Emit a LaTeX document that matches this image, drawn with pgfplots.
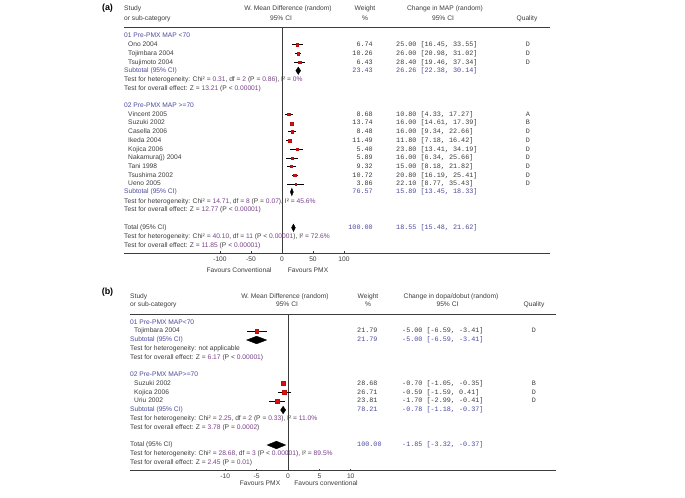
\documentclass[border=0pt]{standalone}
\usepackage{pgfplots}
\pgfplotsset{compat=1.18}
\usepackage{pgfplotstable}
\usepackage{fontspec}
\setmainfont{Liberation Sans}
\newfontfamily\monof{Liberation Mono}
\definecolor{txt}{HTML}{3C3C3C}
\definecolor{hblue}{HTML}{4A4A9E}
\definecolor{npurp}{HTML}{7A3F8A}
\definecolor{sqred}{HTML}{D81010}
\newcommand{\fs}{\fontsize{6.7}{7.5}\selectfont}
\newcommand{\fm}{\monof\fontsize{6.8}{7.5}\selectfont}
\newcommand{\p}[1]{\textcolor{npurp}{#1}}

\pgfplotstableread{
y est lo hi w
44.7 25.00 16.45 33.55 6.74
53.7 26.00 20.98 31.02 10.26
62.3 28.40 19.46 37.34 6.43
114.3 10.80 4.33 17.27 8.68
123.2 16.00 14.61 17.39 13.74
131.7 16.00 9.34 22.66 8.48
140.3 11.80 7.18 16.42 11.49
149.3 23.80 13.41 34.19 5.40
158.0 16.00 6.34 25.66 5.89
166.3 15.00 8.18 21.82 9.32
175.3 20.80 16.19 25.41 10.72
184.0 22.10 8.77 35.43 3.86
}\studiesA

\pgfplotstableread{
y est lo hi w
331.0 -5.00 -6.59 -3.41 21.79
383.3 -0.70 -1.05 -0.35 28.68
392.3 -0.59 -1.59 0.41 26.71
401.0 -1.70 -2.99 -0.41 23.81
}\studiesB

\pgfplotsset{
  forest/.style={
    scale only axis, anchor=south west, clip=false,
    y dir=reverse,
    axis x line*=bottom, axis y line=none,
    axis line style={-, line width=0.6bp, txt},
    ytick=\empty,
    xtick align=inside, major tick length=2bp,
    tick style={txt, line width=0.5bp},
    xticklabel style={font=\fs, text=txt},
    /pgf/number format/assume math mode=true,
  },
  studyplot/.style={scatter, only marks, mark=square*,
    point meta=\thisrow{w},
    scatter/use mapped color={draw=sqred!85!black, fill=sqred},
    visualization depends on={0.3+0.32*sqrt(\thisrow{w}) \as \msz},
    scatter/@pre marker code/.append style={/tikz/mark size=\msz},
    mark options={line width=0.3bp},
    error bars/x dir=both, error bars/x explicit, error bars/error mark=none,
    error bars/error bar style={black, line width=0.5bp}},
}

\tikzset{
  tx/.style={anchor=west, inner sep=0pt, font=\fs, text=txt, text height=4.8pt, text depth=1.3pt},
  tm/.style={anchor=west, inner sep=0pt, font=\fm, text=txt, text height=4.8pt, text depth=1.3pt},
}

\begin{document}
\begin{tikzpicture}
\path[use as bounding box] (0bp,0bp) rectangle (685bp,-498bp);

% ---------------- Panel (a) ----------------
\begin{axis}[forest, at={(124bp,-253bp)}, width=426bp, height=226bp,
  xmin=-254.8, xmax=432.3, ymin=27, ymax=253,
  xtick={-100,-50,0,50,100}]
\addplot[txt, line width=0.6bp] coordinates {(0,27) (0,253)};
\addplot[studyplot] table[x=est, y=y,
   x error plus expr=\thisrow{hi}-\thisrow{est},
   x error minus expr=\thisrow{est}-\thisrow{lo}] {\studiesA};
\addplot[fill=black, draw=black] coordinates {(22.38,70.7) (26.26,67.0) (30.14,70.7) (26.26,74.4)} -- cycle;
\addplot[fill=black, draw=black] coordinates {(13.45,192) (15.89,188.3) (18.33,192) (15.89,195.7)} -- cycle;
\addplot[fill=black, draw=black] coordinates {(15.48,227.7) (18.55,224.0) (21.62,227.7) (18.55,231.4)} -- cycle;
\end{axis}

% ---------------- Panel (b) ----------------
\begin{axis}[forest, at={(130bp,-470.7bp)}, width=426bp, height=156.7bp,
  xmin=-25.2, xmax=42.74, ymin=314, ymax=470.7,
  xtick={-10,-5,0,5,10}]
\addplot[txt, line width=0.6bp] coordinates {(0,314) (0,470.7)};
\addplot[studyplot] table[x=est, y=y,
   x error plus expr=\thisrow{hi}-\thisrow{est},
   x error minus expr=\thisrow{est}-\thisrow{lo}] {\studiesB};
\addplot[fill=black, draw=black] coordinates {(-6.59,340) (-5.00,336.2) (-3.41,340) (-5.00,343.8)} -- cycle;
\addplot[fill=black, draw=black] coordinates {(-1.18,410) (-0.78,406.2) (-0.37,410) (-0.78,413.8)} -- cycle;
\addplot[fill=black, draw=black] coordinates {(-3.32,445) (-1.85,441.2) (-0.37,445) (-1.85,448.8)} -- cycle;
\end{axis}

\begin{scope}[x=1bp, y=-1bp]
\draw[txt, line width=0.6bp] (124,27) -- (550,27);
\node[font=\bfseries\fontsize{9}{10}\selectfont, text=black] at (107.5,8) {(a)};
\node[tx] at (124,9) {Study};
\node[tx] at (124,19) {or sub-category};
\node[tx, anchor=center] at (288,9) {W. Mean Difference (random)};
\node[tx, anchor=center] at (281,19) {95\% CI};
\node[tx, anchor=center] at (365,9) {Weight};
\node[tx, anchor=center] at (365,19) {\%};
\node[tx, anchor=center] at (445,9) {Change in MAP (random)};
\node[tx, anchor=center] at (443,19) {95\% CI};
\node[tx, anchor=center] at (527,19) {Quality};

\node[tx, text=hblue] at (124,36) {01 Pre-PMX MAP <70};
\node[tx] at (128,44.7) {Ono 2004};
\node[tx] at (128,53.7) {Tojimbara 2004};
\node[tx] at (128,62.3) {Tsujimoto 2004};
\node[tx, text=hblue] at (124,70.7) {Subtotal (95\% CI)};
\node[tx] at (124,80) {Test for heterogeneity: Chi² = \p{0.31}, df = \p{2} (P = \p{0.86}), I² = \p{0\%}};
\node[tx] at (124,88.7) {Test for overall effect: Z = \p{13.21} (P < \p{0.00001})};
\node[tx, text=hblue] at (124,106) {02 Pre-PMX MAP >=70};
\node[tx] at (128,114.3) {Vincent 2005};
\node[tx] at (128,123.2) {Suzuki 2002};
\node[tx] at (128,131.7) {Casella 2006};
\node[tx] at (128,140.3) {Ikeda 2004};
\node[tx] at (128,149.3) {Kojica 2006};
\node[tx] at (128,158) {Nakamura(j) 2004};
\node[tx] at (128,166.3) {Tani 1998};
\node[tx] at (128,175.3) {Tsushima 2002};
\node[tx] at (128,184) {Ueno 2005};
\node[tx, text=hblue] at (124,192) {Subtotal (95\% CI)};
\node[tx] at (124,201.3) {Test for heterogeneity: Chi² = \p{14.71}, df = \p{8} (P = \p{0.07}), I² = \p{45.6\%}};
\node[tx] at (124,210) {Test for overall effect: Z = \p{12.77} (P < \p{0.00001})};
\node[tx] at (124,227.7) {Total (95\% CI)};
\node[tx] at (124,236.7) {Test for heterogeneity: Chi² = \p{40.10}, df = \p{11} (P < \p{0.00001}), I² = \p{72.6\%}};
\node[tx] at (124,245.3) {Test for overall effect: Z = \p{11.85} (P < \p{0.00001})};

\foreach \yy/\w/\ci/\q in {44.7/6.74/{25.00 [16.45, 33.55]}/D, 53.7/10.26/{26.00 [20.98, 31.02]}/D,
  62.3/6.43/{28.40 [19.46, 37.34]}/D, 114.3/8.68/{10.80 [4.33, 17.27]}/A,
  123.2/13.74/{16.00 [14.61, 17.39]}/B, 131.7/8.48/{16.00 [9.34, 22.66]}/D,
  140.3/11.49/{11.80 [7.18, 16.42]}/D, 149.3/5.40/{23.80 [13.41, 34.19]}/D,
  158/5.89/{16.00 [6.34, 25.66]}/D, 166.3/9.32/{15.00 [8.18, 21.82]}/D,
  175.3/10.72/{20.80 [16.19, 25.41]}/D, 184/3.86/{22.10 [8.77, 35.43]}/D}{
  \node[tm, anchor=east] at (373,\yy) {\w};
  \node[tm] at (396,\yy) {\ci};
  \node[tm, anchor=center] at (528,\yy) {\q};
}
\foreach \yy/\w/\ci in {70.7/23.43/{26.26 [22.38, 30.14]}, 192/76.57/{15.89 [13.45, 18.33]},
  227.7/100.00/{18.55 [15.48, 21.62]}}{
  \node[tm, anchor=east, text=hblue] at (373,\yy) {\w};
  \node[tm, text=hblue] at (396,\yy) {\ci};
}
\node[tx, anchor=center] at (239,271) {Favours Conventional};
\node[tx, anchor=center] at (308,271) {Favours PMX};

\draw[txt, line width=0.6bp] (130,314) -- (556,314);
\node[font=\bfseries\fontsize{9}{10}\selectfont, text=black] at (107.5,292) {(b)};
\node[tx] at (130,297) {Study};
\node[tx] at (130,304.5) {or sub-category};
\node[tx, anchor=center] at (285,297) {W. Mean Difference (random)};
\node[tx, anchor=center] at (287,304.5) {95\% CI};
\node[tx, anchor=center] at (368,296.5) {Weight};
\node[tx, anchor=center] at (368,304.5) {\%};
\node[tx, anchor=center] at (451,296.5) {Change in dopa/dobut (random)};
\node[tx, anchor=center] at (447.5,304.5) {95\% CI};
\node[tx, anchor=center] at (534,305) {Quality};

\node[tx, text=hblue] at (130,322.7) {01 Pre-PMX MAP<70};
\node[tx] at (134,331) {Tojimbara 2004};
\node[tx, text=hblue] at (130,340) {Subtotal (95\% CI)};
\node[tx] at (130,348.3) {Test for heterogeneity: not applicable};
\node[tx] at (130,357.3) {Test for overall effect: Z = \p{6.17} (P < \p{0.00001})};
\node[tx, text=hblue] at (130,375) {02 Pre-PMX MAP>=70};
\node[tx] at (134,383.3) {Suzuki 2002};
\node[tx] at (134,392.3) {Kojica 2006};
\node[tx] at (134,401) {Uriu 2002};
\node[tx, text=hblue] at (130,410) {Subtotal (95\% CI)};
\node[tx] at (130,418.7) {Test for heterogeneity: Chi² = \p{2.25}, df = \p{2} (P = \p{0.33}), I² = \p{11.0\%}};
\node[tx] at (130,427.3) {Test for overall effect: Z = \p{3.78} (P = \p{0.0002})};
\node[tx] at (130,445) {Total (95\% CI)};
\node[tx] at (130,453.7) {Test for heterogeneity: Chi² = \p{28.68}, df = \p{3} (P < \p{0.00001}), I² = \p{89.5\%}};
\node[tx] at (130,462.3) {Test for overall effect: Z = \p{2.45} (P = \p{0.01})};

\foreach \yy/\w/\ci/\q in {331/21.79/{-5.00 [-6.59, -3.41]}/D, 383.3/28.68/{-0.70 [-1.05, -0.35]}/B,
  392.3/26.71/{-0.59 [-1.59, 0.41]}/D, 401/23.81/{-1.70 [-2.99, -0.41]}/D}{
  \node[tm] at (357,\yy) {\w};
  \node[tm] at (402,\yy) {\ci};
  \node[tm, anchor=center] at (534,\yy) {\q};
}
\foreach \yy/\w/\ci in {340/21.79/{-5.00 [-6.59, -3.41]}, 410/78.21/{-0.78 [-1.18, -0.37]},
  445/100.00/{-1.85 [-3.32, -0.37]}}{
  \node[tm, text=hblue] at (357,\yy) {\w};
  \node[tm, text=hblue] at (402,\yy) {\ci};
}
\node[tx, anchor=center] at (260,483.3) {Favours PMX};
\node[tx, anchor=center] at (326,483.3) {Favours conventional};
\end{scope}
\end{tikzpicture}
\end{document}
